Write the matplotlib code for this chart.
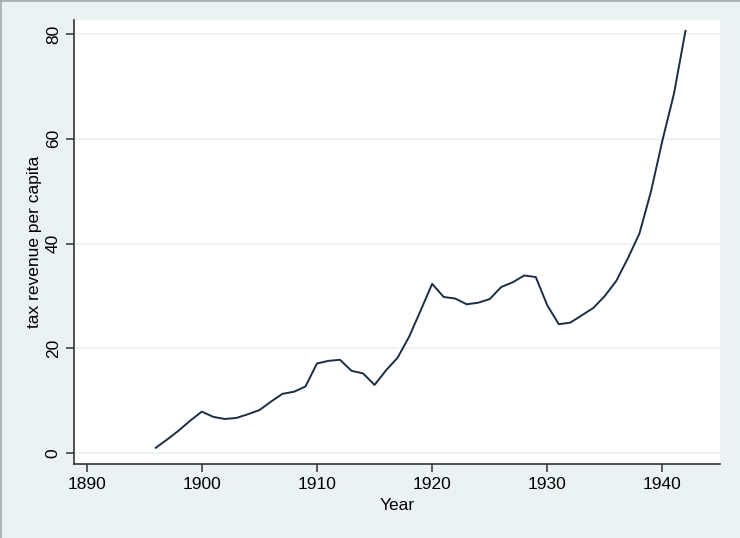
import matplotlib
matplotlib.use('Agg')
import matplotlib.pyplot as plt
from matplotlib.lines import Line2D

years = list(range(1896, 1943))
revenue = [1.0, 2.6, 4.3, 6.2, 7.9, 6.9, 6.5, 6.7, 7.4, 8.2,
           9.8, 11.3, 11.7, 12.7, 17.1, 17.6, 17.8, 15.7, 15.2, 13.0,
           15.8, 18.2, 22.2, 27.2, 32.3, 29.8, 29.5, 28.4, 28.7, 29.4,
           31.7, 32.6, 33.9, 33.6, 28.2, 24.6, 24.9, 26.3, 27.7, 30.0,
           32.9, 37.2, 41.9, 49.9, 59.7, 68.6, 80.6]
xticks = [1890, 1900, 1910, 1920, 1930, 1940]
yticks = [0, 20, 40, 60, 80]

plt.rcParams['font.family'] = ['Liberation Sans', 'DejaVu Sans']

bg = '#eaf2f3'
fig = plt.figure(figsize=(7.4, 5.38), dpi=100, facecolor=bg)
ax = fig.add_axes([0.1, 0.1375, 0.873, 0.8255])
ax.set_facecolor('white')

# thin grey frame on top and left of the picture
fig.add_artist(Line2D([0.001, 0.001], [0, 1], transform=fig.transFigure, color='#a0a8ac', linewidth=1.2))
fig.add_artist(Line2D([0, 1], [0.998, 0.998], transform=fig.transFigure, color='#a0a8ac', linewidth=1.2))

ax.plot(years, revenue, color='#1a2e45', linewidth=1.4)

ax.set_xlim(1888.9, 1945)
ax.set_ylim(-2.1, 82.7)
ax.set_xticks(xticks)
ax.set_yticks(yticks)
ax.grid(axis='y', color=bg, linewidth=1.2)
ax.set_axisbelow(True)

for s in ['top', 'right']:
    ax.spines[s].set_visible(False)
for s in ['left', 'bottom']:
    ax.spines[s].set_color('#333333')
    ax.spines[s].set_linewidth(1.2)

ax.tick_params(axis='both', length=5.5, width=1.1, color='#333333', labelsize=12.5, pad=4)
plt.setp(ax.get_yticklabels(), rotation=90, va='center')

ax.set_xlabel('Year', fontsize=12.5, labelpad=4)
ax.set_ylabel('tax revenue per capita', fontsize=12.5, labelpad=3)

plt.savefig('out.png', dpi=100, facecolor=bg)
